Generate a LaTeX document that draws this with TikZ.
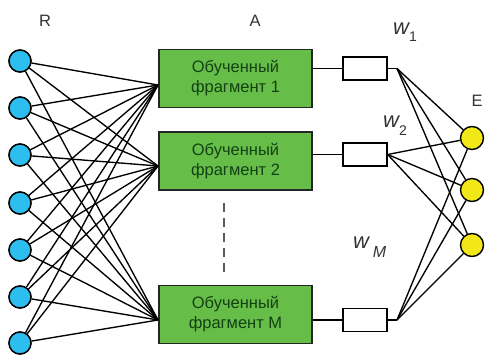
\documentclass[tikz,border=0pt]{standalone}
\usepackage{fontspec}
\setmainfont{Liberation Sans}
\definecolor{incol}{RGB}{45,190,240}
\definecolor{outcol}{RGB}{242,232,25}
\definecolor{boxgreen}{RGB}{102,190,72}
\definecolor{txtgreen}{RGB}{20,65,20}
\definecolor{dashgray}{RGB}{90,90,90}
\tikzset{
  inn/.style={circle,draw=black,line width=1.4pt,fill=incol,minimum size=22pt,inner sep=0pt},
  outn/.style={circle,draw=black,line width=1.4pt,fill=outcol,minimum size=23pt,inner sep=0pt},
  frag/.style={rectangle,draw=black!85,line width=1.3pt,fill=boxgreen,minimum width=153pt,minimum height=58pt,inner sep=0pt,align=center,text=txtgreen,font=\fontsize{16.5}{20}\selectfont},
  wbox/.style={rectangle,draw=black,line width=1.3pt,fill=white,minimum width=44pt,minimum height=23pt,inner sep=0pt},
  wire/.style={line width=1.35pt,black},
  lbl/.style={font=\fontsize{16.5}{16.5}\selectfont,text=black!80},
  wlbl/.style={font=\fontsize{22}{22}\selectfont\itshape,text=black!80,inner sep=0pt}
}
\begin{document}
\begin{tikzpicture}[x=1pt,y=-1pt]
\useasboundingbox (0,0) rectangle (486,355);
% labels
\node[lbl] (lR) at (45,21) {R};
\node[lbl] (lA) at (255,21) {A};
\node[lbl] (lE) at (477,101) {E};
\node[wlbl,anchor=base west] (w1) at (393,35) {w\raisebox{-7pt}{\fontsize{14}{14}\selectfont\upshape 1}};
\node[wlbl,anchor=base west] (w2) at (383,128) {w\raisebox{-8pt}{\fontsize{14}{14}\selectfont\upshape 2}};
\node[wlbl,anchor=base west] (wM) at (353,248) {w\,\raisebox{-9pt}{\fontsize{16}{16}\selectfont M}};
% fragment boxes
\node[frag] (g1) at (235.5,78.5) {Обученный\\фрагмент 1};
\node[frag] (g2) at (235.5,161) {Обученный\\фрагмент 2};
\node[frag] (gM) at (235.5,314.5) {Обученный\\фрагмент M};
% convergence points
\coordinate (c1) at (158,85);
\coordinate (c2) at (158,166);
\coordinate (cM) at (158,320);
% inputs
\foreach \i/\y in {1/61,2/108,3/155,4/203,5/250,6/297,7/343}{
  \node[inn] (r\i) at (20,\y) {};
}
\foreach \i in {1,...,7}{
  \foreach \c in {c1,c2,cM}{
    \draw[wire] (r\i) -- (\c);
  }
}
% redraw circles on top
\foreach \i/\y in {1/61,2/108,3/155,4/203,5/250,6/297,7/343}{
  \node[inn] at (20,\y) {};
}
% dashed
\coordinate (d1) at (224,203);
\coordinate (d2) at (224,273);
\draw[line width=1.5pt,dashgray,dash pattern=on 9pt off 6pt] (d1) -- (d2);
% weight boxes
\node[wbox] (s1) at (365,68.5) {};
\node[wbox] (s2) at (365,154.5) {};
\node[wbox] (sM) at (365,320) {};
\draw[wire] (g1.east |- s1) -- (s1.west);
\draw[wire] (g2.east |- s2) -- (s2.west);
\draw[wire] (gM.east |- sM) -- (sM.west);
% outputs
\node[outn] (e1) at (472,138) {};
\node[outn] (e2) at (472,190) {};
\node[outn] (e3) at (472,245) {};
\coordinate (t1) at (397,68.5);
\coordinate (tM) at (397,320);
\draw[wire] (s1.east) -- (t1);
\draw[wire] (sM.east) -- (tM);
\foreach \e in {e1,e2,e3}{
  \draw[wire] (t1) -- (\e);
  \draw[wire] (s2.east) -- (\e);
  \draw[wire] (tM) -- (\e);
}
\end{tikzpicture}
\end{document}
